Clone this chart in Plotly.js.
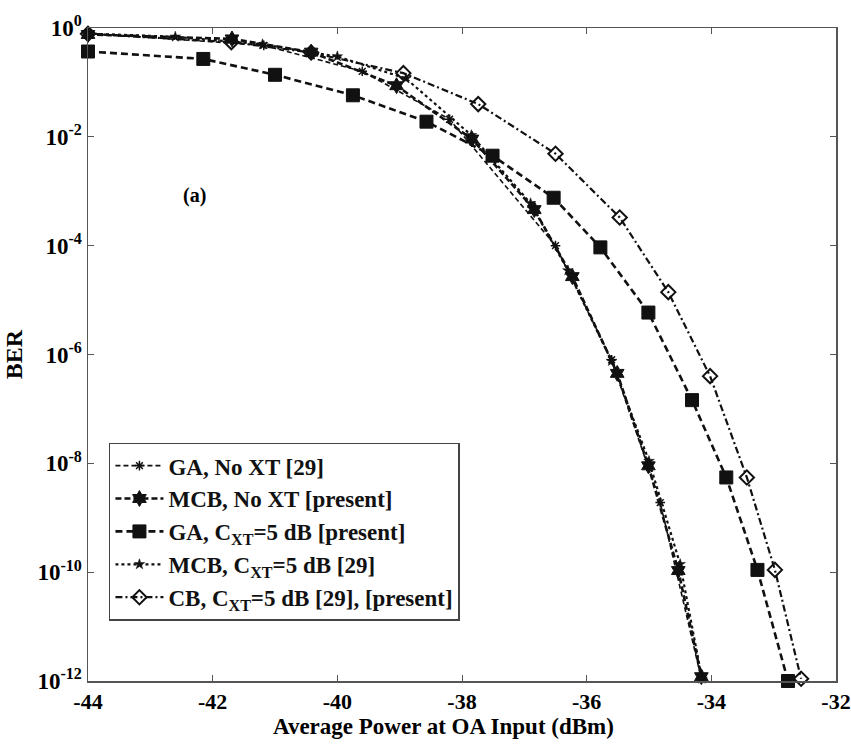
<!DOCTYPE html>
<html>
<head>
<meta charset="utf-8">
<script src="https://cdn.plot.ly/plotly-3.0.1.min.js"></script>
<style>
  html, body { margin: 0; padding: 0; background: #ffffff; }
  #chart { width: 851px; height: 744px; }
</style>
</head>
<body>
<div id="chart"></div>
<script>
// ---- Data ----
const seriesNames = [
  'GA, No XT [29]',
  'MCB, No XT [present]',
  'GA, C<sub>XT</sub>=5 dB [present]',
  'MCB, C<sub>XT</sub>=5 dB [29]',
  'CB, C<sub>XT</sub>=5 dB [29], [present]'
];

const gaNoXtX   = [-44, -41.18, -39.6, -38.2, -36.5, -35.6, -34.82, -34.16];
const gaNoXtY   = [0.80, 0.48, 0.16, 0.021, 1.0e-4, 8.0e-7, 1.9e-9, 1.1e-12];

const mcbNoXtX  = [-44, -41.69, -40.42, -39.05, -37.84, -36.84, -36.23, -35.51, -35.01, -34.53, -34.16];
const mcbNoXtY  = [0.76, 0.63, 0.36, 0.087, 9.1e-3, 4.6e-4, 2.7e-5, 4.5e-7, 9.0e-9, 1.07e-10, 1.2e-12];

const gaXtX     = [-44, -42.15, -41.0, -39.75, -38.57, -37.51, -36.53, -35.78, -35.01, -34.31, -33.76, -33.26, -32.77];
const gaXtY     = [0.37, 0.27, 0.138, 0.058, 0.019, 4.5e-3, 7.6e-4, 9.3e-5, 5.9e-6, 1.45e-7, 5.5e-9, 1.1e-10, 1.0e-12];

const mcbXtX    = [-44, -42.6, -41.2, -40.0, -38.9, -37.85, -36.9, -36.3, -35.6, -35.0, -34.5, -34.15];
const mcbXtY    = [0.79, 0.69, 0.50, 0.30, 0.118, 0.0107, 6.0e-4, 3.5e-5, 7.6e-7, 1.1e-8, 1.4e-10, 1.1e-12];

const cbXtX     = [-44, -41.70, -40.42, -38.94, -37.74, -36.50, -35.47, -34.69, -34.02, -33.43, -32.98, -32.56];
const cbXtY     = [0.78, 0.55, 0.355, 0.148, 0.040, 4.9e-3, 3.3e-4, 1.4e-5, 4.0e-7, 5.5e-9, 1.1e-10, 1.1e-12];

const xTickVals = [-44, -42, -40, -38, -36, -34, -32];
const xTickText = ['-44', '-42', '-40', '-38', '-36', '-34', '-32'];
const yTickVals = [1, 1e-2, 1e-4, 1e-6, 1e-8, 1e-10, 1e-12];
const yTickText = ['10<sup>0</sup>', '10<sup>-2</sup>', '10<sup>-4</sup>', '10<sup>-6</sup>',
                   '10<sup>-8</sup>', '10<sup>-10</sup>', '10<sup>-12</sup>'];
const xTitle = 'Average Power at OA Input (dBm)';
const yTitle = 'BER';
const panelLabel = '(a)';

// ---- Styling ----
const FONT = 'Liberation Serif, Times New Roman, serif';
const ink = '#111111';

const traces = [
  { x: gaNoXtX, y: gaNoXtY, name: seriesNames[0], mode: 'lines+markers',
    line: { color: ink, width: 1.6, dash: '5px,3px' },
    marker: { symbol: 'asterisk-open', size: 8, color: ink, line: { color: ink, width: 1.5 } } },
  { x: mcbNoXtX, y: mcbNoXtY, name: seriesNames[1], mode: 'lines+markers',
    line: { color: ink, width: 2.6, dash: '6px,3px' },
    marker: { symbol: 'hexagram', size: 12, color: ink, line: { color: ink, width: 1 } } },
  { x: gaXtX, y: gaXtY, name: seriesNames[2], mode: 'lines+markers',
    line: { color: ink, width: 2.6, dash: '7px,4px' },
    marker: { symbol: 'square', size: 13, color: ink, line: { color: ink, width: 1 } } },
  { x: mcbXtX, y: mcbXtY, name: seriesNames[3], mode: 'lines+markers',
    line: { color: ink, width: 2.2, dash: 'dot' },
    marker: { symbol: 'star', size: 8, color: ink, line: { color: ink, width: 0.5 } } },
  { x: cbXtX, y: cbXtY, name: seriesNames[4], mode: 'lines+markers',
    line: { color: ink, width: 2.2, dash: '7px,3px,2px,3px' },
    marker: { symbol: 'diamond-open', size: 11, color: ink, line: { color: ink, width: 2 } } }
].map(t => Object.assign(t, { cliponaxis: false }));

const layout = {
  width: 851, height: 744,
  margin: { l: 88, r: 15, t: 28, b: 63 },
  paper_bgcolor: '#ffffff', plot_bgcolor: '#ffffff',
  font: { family: FONT, color: '#000000', size: 20 },
  showlegend: true,
  legend: {
    x: 0.028, y: 0.365, xanchor: 'left', yanchor: 'top',
    bgcolor: '#ffffff', bordercolor: '#444444', borderwidth: 1.5,
    font: { family: FONT, size: 23, color: '#111111', weight: 'bold' },
    itemwidth: 48, tracegroupgap: 0
  },
  xaxis: {
    range: [-44, -32], tickvals: xTickVals, ticktext: xTickText,
    showgrid: false, zeroline: false, ticklabeloverflow: 'allow',
    showline: true, linecolor: '#555555', linewidth: 1.5, mirror: 'ticks',
    ticks: 'inside', ticklen: 6, tickcolor: '#555555', tickwidth: 1,
    tickfont: { family: FONT, size: 22, color: '#000000', weight: 'bold' }
  },
  yaxis: {
    type: 'log', range: [-12, 0], tickvals: yTickVals, ticktext: yTickText,
    showgrid: false, zeroline: false,
    showline: true, linecolor: '#555555', linewidth: 1.5, mirror: 'ticks',
    ticks: 'inside', ticklen: 6, tickcolor: '#555555', tickwidth: 1,
    tickfont: { family: FONT, size: 23, color: '#000000', weight: 'bold' },
    title: { text: yTitle, standoff: 8,
             font: { family: FONT, size: 24, color: '#000000', weight: 'bold' } }
  },
  annotations: [
    { text: panelLabel, xref: 'paper', yref: 'paper', x: 0.143, y: 0.744,
      xanchor: 'center', yanchor: 'middle', showarrow: false,
      font: { family: FONT, size: 20, color: '#000000', weight: 'bold' } },
    { text: xTitle, xref: 'paper', yref: 'paper', x: 0.4746, y: -0.069,
      xanchor: 'center', yanchor: 'middle', showarrow: false,
      font: { family: FONT, size: 23, color: '#000000', weight: 'bold' } }
  ]
};

Plotly.newPlot('chart', traces, layout, { displayModeBar: false, staticPlot: true });
</script>
</body>
</html>
